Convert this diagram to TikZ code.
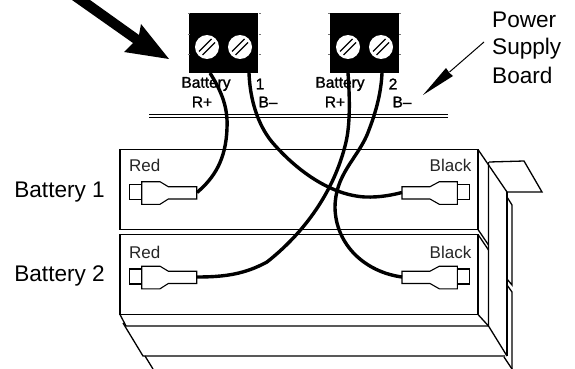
\documentclass[tikz,border=0pt]{standalone}
\usepackage{fontspec}
\setmainfont{Liberation Sans}
\newfontfamily\termfont[FakeBold=1.2]{Liberation Sans}
\begin{document}
\begin{tikzpicture}[x=1pt,y=-1pt,
  outline/.style={draw=black,line width=1.3pt,line join=miter},
  plugline/.style={draw=black,line width=1.1pt,line join=miter},
  cable/.style={draw=black,line width=3.4pt,line cap=butt},
  termblock/.style={fill=black,draw=none,minimum width=69pt,minimum height=60pt,inner sep=0pt},
  screwhead/.style={circle,fill=white,draw=none,minimum size=24pt,inner sep=0pt},
  slot/.style={draw=black,line width=1.4pt},
  tick/.style={draw=black!55,line width=.4pt},
  biglabel/.style={font=\fontsize{22.6}{24}\selectfont,inner sep=0pt},
  smalllabel/.style={font=\fontsize{17}{18}\selectfont,text=black!85,inner sep=0pt},
  termlabel/.style={font=\termfont\fontsize{15.5}{17}\selectfont,inner sep=0pt}]
\useasboundingbox (0,0) rectangle (575,369);
\fill[white] (0,0) rectangle (575,369);

% board
\draw[line width=1.1pt] (149,114.8) -- (447.5,114.8);
\draw[line width=1.1pt] (149,117.5) -- (447.5,117.5);

% case
\draw[outline] (120,149.5) rectangle (478,229.5);
\draw[outline] (120,234.5) rectangle (478,314.5);
\draw[outline] (120,314.5) -- (126,326) -- (488,326);
\draw[outline] (478,149.5) -- (507,192);
\draw[outline] (489,162) -- (524,161) -- (542,192) -- (507,192);
\draw[outline] (488.5,162) -- (488.5,326) -- (507,356);
\draw[outline] (478,229.5) -- (488.5,245);
\draw[outline] (478,234.5) -- (488.5,250);
\draw[outline] (478,314.5) -- (488.5,326);
\draw[outline] (507,192) -- (507,356);
\draw[outline] (507,197) -- (512,205) -- (512,285) -- (507,279);
\draw[outline] (507,285) -- (512,292) -- (512,369);
\draw[outline] (504,357) -- (512,369);
\draw[outline] (123,323) -- (143,356) -- (505,356);
\draw[outline] (145,356) -- (153,369);

% connectors
\foreach \dy/\nm in {0/one,84.5/two}{
  \begin{scope}[yshift=-\dy pt]
  \draw[plugline] (129.3,184.5) rectangle (141.7,199.5);
  \draw[plugline] (141.7,181.7) -- (160,181.7) -- (168.3,186.7) -- (196.7,186.7) -- (196.7,199) -- (168.3,199) -- (160,204.3) -- (141.7,204.3) -- cycle;
  \draw[plugline] (457.3,184.5) rectangle (469.3,199.5);
  \draw[plugline] (457.3,181.7) -- (439.3,181.7) -- (430,186.7) -- (402,186.7) -- (402,199) -- (430,199) -- (439.3,204.3) -- (457.3,204.3) -- cycle;
  \end{scope}
}
\coordinate (r1) at (197,192.5);
\coordinate (b1) at (402,192.5);
\coordinate (r2) at (197,277);
\coordinate (b2) at (402,277);

% labels
\node[biglabel,anchor=east] (bat1) at (105,192) {Battery 1};
\node[biglabel,anchor=east] (bat2) at (105,276) {Battery 2};
\node[smalllabel,anchor=west] (red1) at (129,165.5) {Red};
\node[smalllabel,anchor=west] (red2) at (129,252) {Red};
\node[smalllabel,anchor=east] (blk1) at (471.5,165.5) {Black};
\node[smalllabel,anchor=east] (blk2) at (471.5,252) {Black};
\node[biglabel,anchor=west] (pw) at (492,20) {Power};
\node[biglabel,anchor=west] (sp) at (492,49) {Supply};
\node[biglabel,anchor=west] (bd) at (492,75.5) {Board};

\node[termlabel] (t1a) at (206,84) {Battery};
\node[termlabel] (t1b) at (202,102) {R+};
\node[termlabel] (t1c) at (260,84) {1};
\node[termlabel] (t1d) at (268,102) {B–};
\node[termlabel] (t2a) at (340,84) {Battery};
\node[termlabel] (t2b) at (335,102) {R+};
\node[termlabel] (t2c) at (393,84) {2};
\node[termlabel] (t2d) at (402,102) {B–};

% terminal blocks
\node[termblock] (blockA) at (223.5,43) {};
\node[termblock] (blockB) at (364.5,43) {};
\foreach \b/\x in {blockA/190,blockB/330}{
  \foreach \yy in {13.5,34,54}{
    \draw[tick] (\x-2,\yy) -- (\x,\yy);
    \draw[tick] (\x+69,\yy) -- (\x+71,\yy);
  }
}
\foreach \n/\x in {sa/207,sb/240,sc/348,sd/381}{
  \node[screwhead] (\n) at (\x,47) {};
  \draw[slot] (\x-8,47+4.5) -- (\x+4.5,47-8);
  \draw[slot] (\x-4.5,47+8) -- (\x+8,47-4.5);
}
\coordinate (w1) at (210,73);
\coordinate (w2) at (249,73);
\coordinate (w3) at (348,73);
\coordinate (w4) at (382,73);

% wires
\draw[cable] (w1) .. controls (222,92) and (228,108) .. (227,128)
  .. controls (226,160) and (214,178) .. (r1);
\draw[cable] (w2) .. controls (250,100) and (258,125) .. (272,142)
  .. controls (296,170) and (330,195) .. (365,197)
  .. controls (380,197.5) and (392,195) .. (b1);
\draw[cable] (w3) .. controls (350,100) and (350,125) .. (346,142)
  .. controls (336,185) and (310,228) .. (267,262)
  .. controls (245,274) and (225,277) .. (r2);
\draw[cable] (w4) .. controls (381,95) and (375,115) .. (367,135)
  .. controls (356,160) and (335,175) .. (335,208)
  .. controls (336,245) and (365,272) .. (b2);

% big arrow and thin arrow
\fill[black] (169,59) -- (141,24) -- (139,35) -- (90,0) -- (72,0) -- (133,43) -- (124,52) -- cycle;
\coordinate (ta) at (484,42);
\coordinate (tb) at (423,95);
\draw[line width=1pt] (ta) -- (449.5,72);
\fill[black] (tb) -- (446,68) -- (449.5,73) -- (453,76) -- cycle;
\end{tikzpicture}
\end{document}
